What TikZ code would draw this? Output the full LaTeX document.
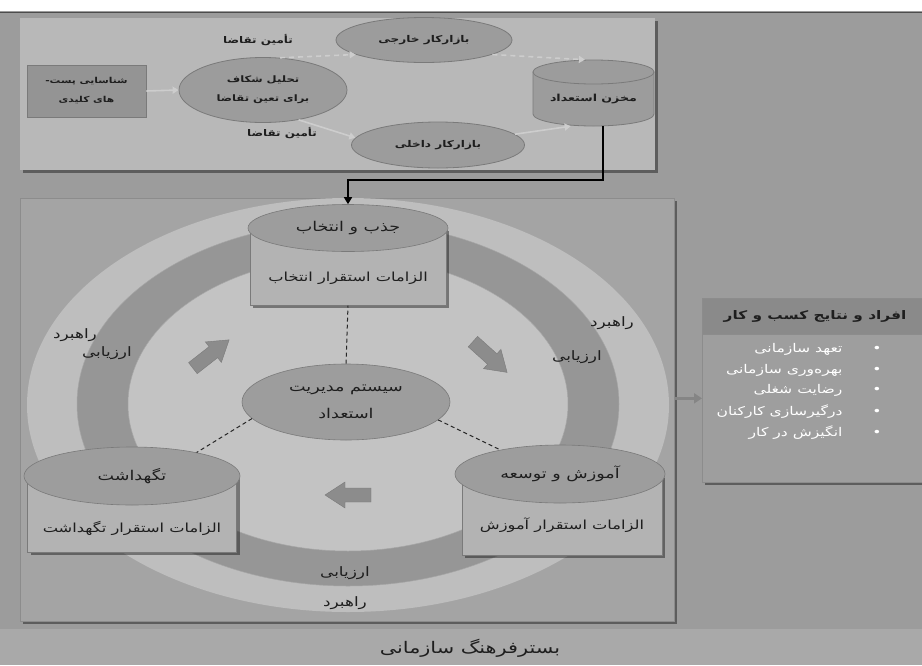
\documentclass[tikz,border=0pt]{standalone}
\usepackage{fontspec}
\newfontfamily\fa[Script=Arabic,FakeStretch=1.3]{DejaVu Sans}
\TeXXeTstate=1
\usetikzlibrary{shapes.geometric,shadows,arrows.meta}
\definecolor{bgc}{HTML}{9C9C9C}
\definecolor{panelc}{HTML}{B8B8B8}
\definecolor{ovalc}{HTML}{9C9C9C}
\definecolor{boxc}{HTML}{949494}
\definecolor{contc}{HTML}{A4A4A4}
\definecolor{outerc}{HTML}{BEBEBE}
\definecolor{bandc}{HTML}{969696}
\definecolor{innerc}{HTML}{C3C3C3}
\definecolor{captop}{HTML}{9D9D9D}
\definecolor{capbody}{HTML}{B3B3B3}
\definecolor{linec}{HTML}{7A7A7A}
\definecolor{txtc}{HTML}{1E1E1E}
\definecolor{hdrc}{HTML}{8A8A8A}
\definecolor{resc}{HTML}{9E9E9E}
\definecolor{stripc}{HTML}{A9A9A9}
\definecolor{blockc}{HTML}{8C8C8C}
\definecolor{flowc}{HTML}{CDCDCD}
\definecolor{linkc}{HTML}{858585}
\begin{document}
\begin{tikzpicture}[x=1pt,y=-1pt,
  every node/.style={font=\fa, text=txtc},
  dshadow/.style={drop shadow={shadow xshift=3pt,shadow yshift=-3pt,opacity=0.4,fill=black}},
  topoval/.style={ellipse, fill=ovalc, draw=linec, line width=0.8pt, inner sep=0pt, font=\fa\bfseries\fontsize{9.3}{11}\selectfont},
  toptxt/.style={font=\fa\bfseries\fontsize{9.2}{11}\selectfont},
  flow/.style={draw=flowc, line width=1.6pt, -{Triangle[length=6pt,width=7pt]}},
  dflow/.style={flow, dash pattern=on 5pt off 4pt},
  captopst/.style={ellipse, fill=captop, draw=linec, line width=0.6pt, inner sep=0pt, font=\fa\fontsize{13.5}{15}\selectfont},
  capbodyst/.style={rectangle, fill=capbody, draw=linec, line width=0.6pt, inner sep=0pt, dshadow, anchor=north},
  bodytxt/.style={font=\fa\fontsize{12.5}{14}\selectfont},
  tie/.style={draw=black!85, line width=1pt, dash pattern=on 4pt off 3pt},
  blockarrow/.style={fill=blockc, draw=linec, line width=0.4pt},
  lbl/.style={font=\fa\fontsize{13}{14}\selectfont},
  resitem/.style={font=\fa\fontsize{12}{13}\selectfont, text=white, anchor=east},
  dotitem/.style={font=\fa\fontsize{12}{13}\selectfont, text=white},
]
\useasboundingbox (0,0) rectangle (922,665);
\fill[bgc] (0,0) rectangle (922,665);
\fill[white] (0,0) rectangle (922,11);
\draw[black!70, line width=1pt] (0,12) -- (922,12);

% ---------- top panel ----------
\node (toppanel) [fill=panelc, dshadow, minimum width=635pt, minimum height=152pt, anchor=north west, inner sep=0pt] at (20,18) {};
\node (keybox) [rectangle, fill=boxc, draw=linec, line width=0.8pt, minimum width=119pt, minimum height=52pt, align=center, font=\fa\bfseries\fontsize{8.2}{19}\selectfont] at (86.5,91) {\beginR شناسایی پست-\endR\\\beginR های کلیدی\endR};
\node (gap) [topoval, minimum width=168pt, minimum height=65pt, align=center, font=\fa\bfseries\fontsize{8.9}{19}\selectfont] at (263,90) {\beginR تحلیل شکاف\endR\\\beginR برای تعین تقاضا\endR};
\node (ext) [topoval, minimum width=176pt, minimum height=45pt] at (424,40) {\beginR بازارکار خارجی\endR};
\node (int) [topoval, minimum width=173pt, minimum height=46pt] at (438,145) {\beginR بازارکار داخلی\endR};
\path[fill=ovalc, draw=linec, line width=0.8pt] (533,72) -- (533,114) arc[start angle=180, end angle=360, x radius=60.5pt, y radius=12pt] -- (654,72) -- cycle;
\node (storetop) [ellipse, fill=ovalc, draw=linec, line width=0.8pt, minimum width=121pt, minimum height=24pt, inner sep=0pt] at (593.5,72) {};
\node (store) [minimum width=121pt, minimum height=54pt, inner sep=0pt, font=\fa\bfseries\fontsize{9.7}{11}\selectfont] at (593.5,99) {\beginR مخزن استعداد\endR};
\node (supA) [toptxt] at (258,40) {\beginR تأمین تقاضا\endR};
\node (supB) [toptxt] at (282,133) {\beginR تأمین تقاضا\endR};
\draw[flow] (keybox.east) -- (gap.west);
\draw[dflow] (gap.62) -- (ext.192);
\draw[dflow] (ext.-12) -- (storetop.125);
\draw[flow] (gap.-40) -- (int.175);
\draw[flow] (int.8) -- (store.-130);

% ---------- middle container ----------
\node (cont) [fill=contc, dshadow, draw=black!45, line width=0.6pt, minimum width=654pt, minimum height=423pt, anchor=north west, inner sep=0pt] at (20,198) {};
\begin{scope}
\clip (20,198) rectangle (674,621);
\node (outer) [ellipse, fill=outerc, minimum width=642pt, minimum height=414pt, inner sep=0pt] at (348,405) {};
\node (band) [ellipse, fill=bandc, draw=black!35, line width=0.5pt, minimum width=542pt, minimum height=364pt, inner sep=0pt] at (348,404) {};
\node (inner) [ellipse, fill=innerc, draw=black!35, line width=0.5pt, minimum width=440pt, minimum height=294pt, inner sep=0pt] at (348,404) {};
\end{scope}

% ring labels
\node (strL) [lbl] at (75,335) {\beginR راهبرد\endR};
\node (evaL) [lbl] at (107,353) {\beginR ارزیابی\endR};
\node (strR) [lbl] at (612,323) {\beginR راهبرد\endR};
\node (evaR) [lbl] at (577,357) {\beginR ارزیابی\endR};
\node (evaB) [lbl] at (345,573) {\beginR ارزیابی\endR};
\node (strB) [lbl] at (345,603) {\beginR راهبرد\endR};

% block arrows
\foreach \cx/\cy/\ang in {211/354/38, 490/357/-42, 348/495/180}{
  \begin{scope}[shift={(\cx,\cy)}, rotate=\ang]
    \path[blockarrow] (-23,-7) -- (3,-7) -- (3,-13) -- (23,0) -- (3,13) -- (3,7) -- (-23,7) -- cycle;
  \end{scope}
}

% selection cylinder
\node (selbody) [capbodyst, minimum width=196pt, minimum height=77pt] at (348,228) {};
\node (seltxt) [bodytxt] at (348,278) {\beginR الزامات استقرار انتخاب\endR};
\node (seltop) [captopst, minimum width=200pt, minimum height=47pt] at (348,228) {\beginR جذب و انتخاب\endR};

% retention cylinder
\node (retbody) [capbodyst, minimum width=209pt, minimum height=76pt] at (132,476) {};
\node (rettxt) [bodytxt] at (132,528) {\beginR الزامات استقرار تگهداشت\endR};
\node (rettop) [captopst, minimum width=216pt, minimum height=58pt] at (132,476) {\beginR تگهداشت\endR};

% development cylinder
\node (devbody) [capbodyst, minimum width=200pt, minimum height=80pt] at (562,475) {};
\node (devtxt) [bodytxt] at (562,525) {\beginR الزامات استقرار آموزش\endR};
\node (devtop) [captopst, minimum width=210pt, minimum height=58pt] at (560,474) {\beginR آموزش و توسعه\endR};

% centre
\node (cen) [ellipse, fill=captop, draw=linec, line width=0.6pt, minimum width=208pt, minimum height=76pt, inner sep=0pt, align=center, font=\fa\fontsize{13.5}{27}\selectfont] at (346,402) {\beginR سیستم مدیریت\endR\\\beginR استعداد\endR};
\draw[tie] (cen.north) -- (selbody.south);
\draw[tie] (cen.190) -- (rettop.20);
\draw[tie] (cen.-11) -- (devtop.158);

% feed from talent store
\coordinate (bend) at (603,180);
\draw[black, line width=1.6pt, -{Triangle[length=7pt,width=8pt]}] ([xshift=9.5pt]store.south) -- (bend) -| (seltop.north);

% ---------- result box ----------
\node (res) [fill=resc, draw=black!45, line width=0.6pt, dshadow, minimum width=224pt, minimum height=184pt, anchor=north west, inner sep=0pt] at (702,298) {};
\node (reshdr) [fill=hdrc, draw=black!45, line width=0.6pt, minimum width=224pt, minimum height=36pt, anchor=north west, inner sep=0pt] at (702,298) {};
\node (reshdrtxt) [font=\fa\bfseries\fontsize{11.8}{13}\selectfont] at (815,316) {\beginR افراد و نتایج کسب و کار\endR};
\node (r1) [resitem] at (846,349) {\beginR تعهد سازمانی\endR};
\node (r2) [resitem] at (846,370) {\beginR بهره‌وری سازمانی\endR};
\node (r3) [resitem] at (846,390) {\beginR رضایت شغلی\endR};
\node (r4) [resitem] at (846,412) {\beginR درگیرسازی کارکنان\endR};
\node (r5) [resitem] at (846,433) {\beginR انگیزش در کار\endR};
\foreach \i/\yy in {1/349,2/370,3/390,4/412,5/433}{
  \node (b\i) [dotitem] at (877,\yy) {•};
}
\draw[draw=linkc, line width=3pt, -{Triangle[length=8pt,width=10pt]}] ([yshift=-8pt]res.west -| cont.east) -- ([yshift=-8pt]res.west);

% ---------- base strip ----------
\node (base) [fill=stripc, minimum width=922pt, minimum height=36pt, anchor=north west, inner sep=0pt] at (0,629) {};
\node (basetxt) [font=\fa\fontsize{16}{18}\selectfont] at (470,648) {\beginR بسترفرهنگ سازمانی\endR};
\end{tikzpicture}
\end{document}
